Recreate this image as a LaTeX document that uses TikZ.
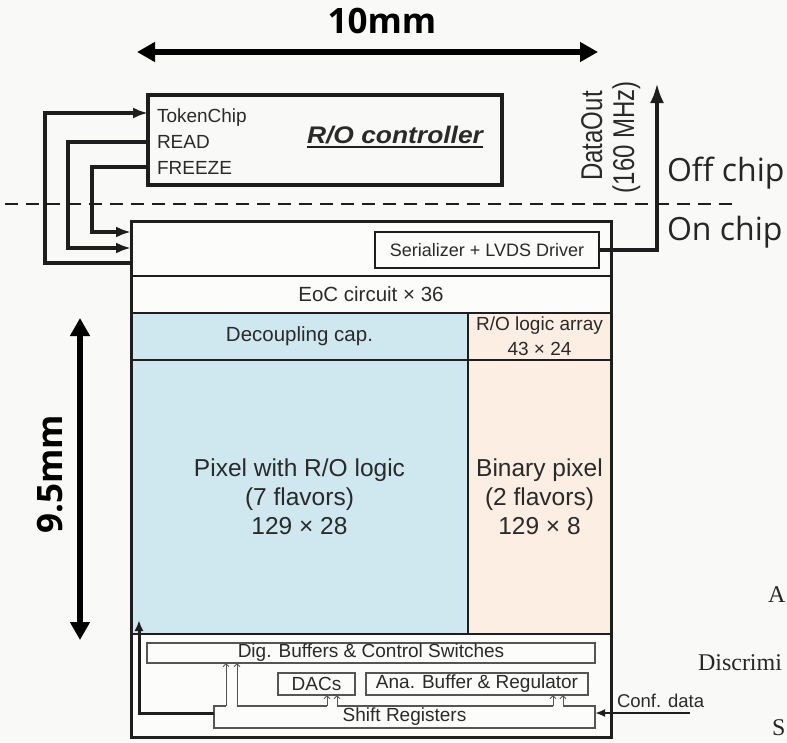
\documentclass[tikz,border=0pt]{standalone}
\usepackage{fontspec}
\usepackage{graphicx}
\newfontfamily\lsans{Liberation Sans}
\newfontfamily\osans{Open Sans}
\newfontfamily\lserif{Liberation Serif}
\usetikzlibrary{arrows.meta,calc}
\definecolor{bg}{HTML}{F9F9F7}
\definecolor{chipbg}{HTML}{FCFCFB}
\definecolor{pixblue}{HTML}{CFE8EF}
\definecolor{pixorange}{HTML}{FDEEE3}
\definecolor{ink}{HTML}{1E1E1E}
\definecolor{txt}{HTML}{2A2A2A}
\definecolor{thin}{HTML}{555555}
\begin{document}
\begin{tikzpicture}[x=1pt,y=-1pt,
  every node/.style={inner sep=0pt, outer sep=0pt},
  box/.style={draw=ink, rectangle, anchor=north west},
  region/.style={box, line width=2pt, text=txt, align=center},
  small/.style={font=\lsans\fontsize{19}{23}\selectfont, text=txt},
  thinbox/.style={box, draw=thin, line width=1.2pt, small},
  lbl/.style={font=\lsans\fontsize{19}{23}\selectfont, text=txt, anchor=base west},
  bigarrow/.style={draw=ink, line width=4pt, -{Latex[length=15pt,width=11pt]}},
  dimarrow/.style={draw=black, line width=5.5pt, {Triangle[length=18pt,width=19pt]}-{Triangle[length=18pt,width=19pt]}},
  chan/.style={draw=thin, line width=1pt, -{Straight Barb[length=3pt,width=6pt]}},
  offon/.style={font=\osans\fontsize{32}{38}\selectfont, text=black!85, anchor=base west},
  dimtext/.style={font=\osans\bfseries\fontsize{35}{42}\selectfont, text=black, anchor=base},
  stray/.style={font=\lserif\fontsize{24}{28}\selectfont, text=black!85, anchor=base west},
]
\fill[bg] (0,0) rectangle (787,742);
\useasboundingbox (0,0) rectangle (787,742);
\fill[chipbg] (131,221) rectangle (611,737);

% regions of the chip
\node[region, fill=chipbg, minimum width=480pt, minimum height=37pt, font=\lsans\fontsize{20.5}{24}\selectfont] (eoc) at (131,276) {EoC circuit × 36};
\node[region, fill=pixblue, minimum width=337pt, minimum height=47pt, font=\lsans\fontsize{20.5}{24}\selectfont] (deco) at (131,313) {Decoupling cap.};
\node[region, fill=pixorange, minimum width=143pt, minimum height=47pt, font=\lsans\fontsize{19}{25}\selectfont] (rolog) at (468,313) {R/O logic array\\43 × 24};
\node[region, fill=pixblue, minimum width=337pt, minimum height=274pt, font=\lsans\fontsize{24.5}{29}\selectfont] (pix) at (131,360) {Pixel with R/O logic\\(7 flavors)\\129 × 28};
\node[region, fill=pixorange, minimum width=143pt, minimum height=274pt, font=\lsans\fontsize{24.5}{29}\selectfont] (bin) at (468,360) {Binary pixel\\(2 flavors)\\129 × 8};
\node[box, line width=3pt, minimum width=480pt, minimum height=516pt] (chip) at (131,221) {};

% serializer
\node[box, line width=1.5pt, minimum width=224pt, minimum height=36pt, font=\lsans\fontsize{18}{22}\selectfont, text=txt] (ser) at (375,232) {Serializer + LVDS Driver};

% controller
\node[box, line width=4pt, minimum width=354pt, minimum height=90pt] (ctrl) at (148,95) {};
\node[lbl] (tok) at (157,122) {TokenChip};
\node[lbl] (read) at (157,148) {READ};
\node[lbl] (frz) at (157,174) {FREEZE};
\node[font=\lsans\bfseries\itshape\fontsize{24}{28}\selectfont, text=txt, anchor=base west] (roc) at (307,143) {\scalebox{1.1}[1]{R/O controller}};
\draw[ink, line width=2pt] ($(roc.base west)+(0,4)$) -- ($(roc.base east)+(0,4)$);

% on/off chip separator
\draw[ink, line width=1.5pt, dash pattern=on 13pt off 8pt] (5,204) -- (735,204);
\node[offon] (off) at (667,181) {Off chip};
\node[offon] (on) at (667,240) {On chip};

% controller connections
\draw[bigarrow] (chip.west |- 0,263) -| (45,113) -- (ctrl.west |- 0,113);
\draw[bigarrow] (ctrl.west |- 0,142) -| (68,248) -- (chip.west |- 0,248);
\draw[bigarrow] (ctrl.west |- 0,167) -| (92,232) -- (chip.west |- 0,232);

% data out
\coordinate (dout) at (657,83);
\draw[ink, line width=4pt, -{Latex[length=20pt,width=14pt]}] (ser.east) -| (dout);
\node[font=\lsans\fontsize{24}{28}\selectfont, text=txt, rotate=90, anchor=base] (dlab) at (602,136) {\scalebox{1}[1.25]{DataOut}};
\node[font=\lsans\fontsize{24}{28}\selectfont, text=txt, rotate=90, anchor=base] (flab) at (634,137) {\scalebox{1}[1.25]{(160 MHz)}};

% bottom periphery
\node[thinbox, minimum width=448pt, minimum height=20pt] (dig) at (147,643) {Dig. Buffers \& Control Switches};
\node[thinbox, minimum width=77pt, minimum height=22pt] (dacs) at (278,673) {DACs};
\node[thinbox, minimum width=222pt, minimum height=22pt] (ana) at (366,673) {Ana. Buffer \& Regulator};
\node[thinbox, minimum width=381pt, minimum height=22pt] (sr) at (214,706) {Shift Registers};
\foreach \a/\b/\t in {226/237/dig, 327/337/dacs, 553/563/ana} {
  \draw[chipbg, line width=1.8pt] (sr.north -| \a,0) -- (sr.north -| \b,0);
  \draw[chan] (sr.north -| \a,0) -- (\t.south -| \a,0);
  \draw[chan] (sr.north -| \b,0) -- (\t.south -| \b,0);
}
\coordinate (pixtip) at (139,620);
\draw[ink, line width=3pt, -{Latex[length=11pt,width=9pt]}] (sr.west |- 0,713) -| (pixtip);
\coordinate (confin) at (690,713);
\draw[ink, line width=2.5pt, -{Latex[length=10pt,width=8pt]}] (confin) -- (sr.east |- confin);
\node[lbl, font=\lsans\fontsize{18.5}{22}\selectfont] (conf) at (617,707) {Conf. data};

% dimensions
\coordinate (wl) at (137,52);
\coordinate (wr) at (598,52);
\draw[dimarrow] (wl) -- (wr);
\node[dimtext] (wtxt) at (382,33) {10mm};
\coordinate (ht) at (80,318);
\coordinate (hb) at (80,640);
\draw[dimarrow] (ht) -- (hb);
\node[dimtext, rotate=90] (htxt) at (62,474) {9.5mm};

% remnants of neighbouring text
\node[stray] (s1) at (768,602) {A};
\node[stray] (s2) at (698,670) {Discrimi};
\node[stray] (s3) at (772,735) {S};
\end{tikzpicture}
\end{document}
